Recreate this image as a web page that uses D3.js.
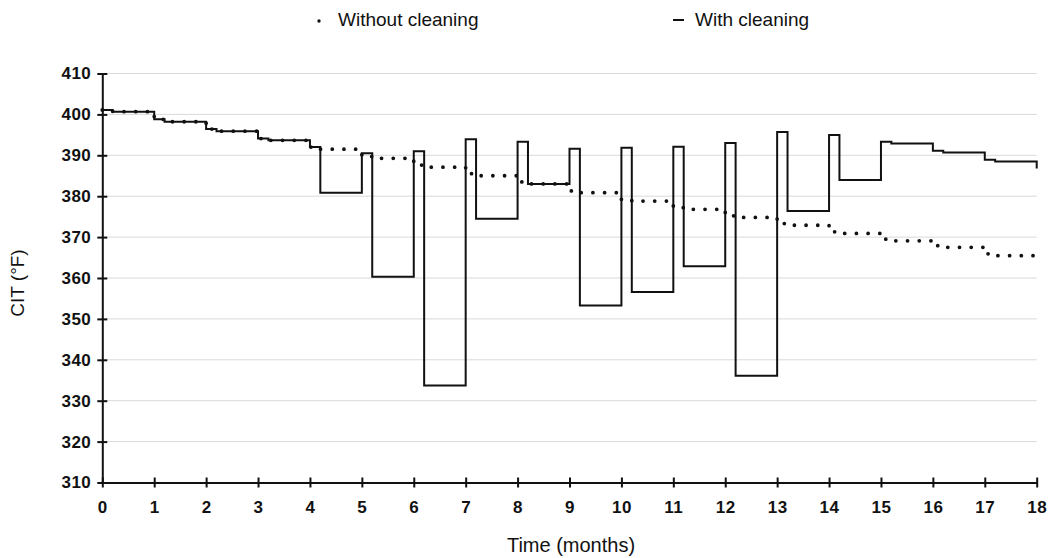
<!DOCTYPE html>
<html>
<head>
<meta charset="utf-8">
<script src="https://cdn.jsdelivr.net/npm/d3@7"></script>
<style>
  html, body { margin: 0; padding: 0; background: #fff; }
  svg { display: block; }
  text { font-family: "Liberation Sans", Arial, Helvetica, sans-serif; fill: #111; }
</style>
</head>
<body>
<svg id="chart" width="1054" height="558"></svg>
<script>
// CIT over 18 months: step points [month, °F]
const withoutCleaning = [
  [0, 401.07], [0.2, 400.66], [1, 398.8], [1.2, 398.2], [2, 396.4], [2.2, 395.9],
  [3, 394.1], [3.2, 393.65], [4, 392.0], [4.2, 391.5], [5, 389.7], [5.2, 389.25],
  [6, 387.6], [6.2, 387.1], [7, 385.5], [7.2, 385.0], [8, 383.5], [8.2, 383.0],
  [9, 381.3], [9.2, 380.85], [10, 379.2], [10.2, 378.8], [11, 377.2], [11.2, 376.8],
  [12, 375.2], [12.2, 374.8], [13, 373.3], [13.2, 372.9], [14, 371.3], [14.2, 370.9],
  [15, 369.5], [15.2, 369.1], [16, 367.9], [16.2, 367.5], [17, 365.9], [17.2, 365.45],
  [18, 365.45]
];

const withCleaning = [
  [0, 401.07], [0.2, 400.66], [1, 398.8], [1.2, 398.2], [2, 396.4], [2.2, 395.9],
  [3, 394.1], [3.2, 393.65], [4, 392.0], [4.2, 380.85], [5, 390.5], [5.2, 360.3],
  [6, 391.0], [6.2, 333.7], [7, 393.9], [7.2, 374.5], [8, 393.3], [8.2, 383.0],
  [9, 391.6], [9.2, 353.3], [10, 391.85], [10.2, 356.6], [11, 392.1], [11.2, 362.85],
  [12, 393.0], [12.2, 336.1], [13, 395.7], [13.2, 376.4], [14, 394.96], [14.2, 383.96],
  [15, 393.3], [15.2, 392.9], [16, 391.1], [16.2, 390.7], [17, 388.9], [17.2, 388.5],
  [18, 386.8]
];

const xTicks = d3.range(0, 19, 1);
const yTicks = d3.range(310, 411, 10);
const seriesNames = ["Without cleaning", "With cleaning"];
const xTitle = "Time (months)";
const yTitle = "CIT (°F)";

const svg = d3.select("#chart");
const x = d3.scaleLinear().domain([0, 18]).range([102.3, 1036.7]);
const y = d3.scaleLinear().domain([310, 410]).range([482.5, 73.5]);

// horizontal gridlines
svg.append("g")
  .selectAll("line")
  .data(yTicks.filter(d => d > 310))
  .join("line")
  .attr("x1", x(0)).attr("x2", x(18))
  .attr("y1", d => y(d)).attr("y2", d => y(d))
  .attr("stroke", "#d9d9d9").attr("stroke-width", 1);

// y axis with crossing ticks
const yAxis = svg.append("g")
  .attr("transform", `translate(${x(0)},0)`)
  .call(d3.axisLeft(y).tickValues(yTicks).tickFormat(d3.format("d")).tickSizeOuter(0).tickPadding(5));
yAxis.select(".domain").attr("stroke", "#111").attr("stroke-width", 2);
yAxis.selectAll(".tick line").attr("x1", -5).attr("x2", 5).attr("stroke", "#111").attr("stroke-width", 2);
yAxis.selectAll(".tick text")
  .style("font-size", "17px").style("font-weight", "bold").style("letter-spacing", "0.5px")
  .attr("fill", "#111");

// x axis with crossing ticks
const xAxis = svg.append("g")
  .attr("transform", `translate(0,${y(310)})`)
  .call(d3.axisBottom(x).tickValues(xTicks).tickFormat(d3.format("d")).tickSizeOuter(0).tickPadding(12));
xAxis.select(".domain").attr("stroke", "#111").attr("stroke-width", 2);
xAxis.selectAll(".tick line").attr("y1", -5).attr("y2", 5).attr("stroke", "#111").attr("stroke-width", 2);
xAxis.selectAll(".tick text")
  .style("font-size", "17px").style("font-weight", "bold").style("letter-spacing", "0.5px")
  .attr("fill", "#111");

const stepLine = d3.line()
  .x(d => x(d[0]))
  .y(d => y(d[1]))
  .curve(d3.curveStepAfter);

// with cleaning: solid step line
svg.append("path")
  .datum(withCleaning)
  .attr("d", stepLine)
  .attr("fill", "none")
  .attr("stroke", "#111")
  .attr("stroke-width", 2);

// without cleaning: round-dot step line
svg.append("path")
  .datum(withoutCleaning)
  .attr("d", stepLine)
  .attr("fill", "none")
  .attr("stroke", "#111")
  .attr("stroke-width", 3.8)
  .attr("stroke-linecap", "round")
  .attr("stroke-dasharray", "0 11.7");

// axis titles
svg.append("text")
  .attr("x", 571).attr("y", 552)
  .attr("text-anchor", "middle")
  .style("font-size", "20px")
  .text(xTitle);

svg.append("text")
  .attr("transform", "translate(24,283) rotate(-90)")
  .attr("text-anchor", "middle")
  .style("font-size", "19px")
  .text(yTitle);

// legend
const legend = svg.append("g");
legend.append("circle").attr("cx", 319).attr("cy", 21).attr("r", 1.7).attr("fill", "#111");
legend.append("text").attr("x", 338).attr("y", 26).style("font-size", "19px").text(seriesNames[0]);
legend.append("line").attr("x1", 673).attr("x2", 684).attr("y1", 20).attr("y2", 20)
  .attr("stroke", "#111").attr("stroke-width", 2);
legend.append("text").attr("x", 695).attr("y", 26).style("font-size", "19px").text(seriesNames[1]);
</script>
</body>
</html>
